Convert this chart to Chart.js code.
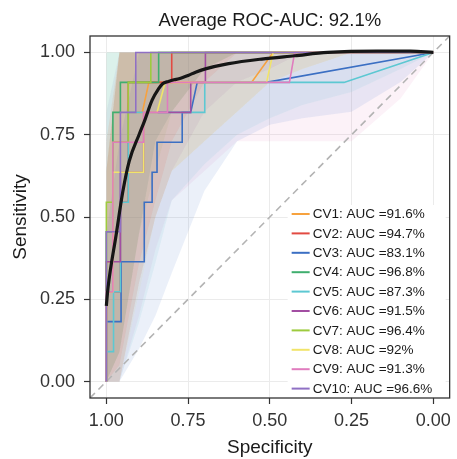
<!DOCTYPE html>
<html>
<head>
<meta charset="utf-8">
<title>ROC curves</title>
<script src="https://cdn.jsdelivr.net/npm/chart.js@4/dist/chart.umd.min.js"></script>
<style>
  body { margin: 0; background: #fff; }
  canvas { display: block; }
</style>
</head>
<body>
<canvas id="roc" width="457" height="459"></canvas>
<script>
// ---- data ----
const cvLabels = [
  "CV1: AUC =91.6%", "CV2: AUC =94.7%", "CV3: AUC =83.1%", "CV4: AUC =96.8%",
  "CV5: AUC =87.3%", "CV6: AUC =91.5%", "CV7: AUC =96.4%", "CV8: AUC =92%",
  "CV9: AUC =91.3%", "CV10: AUC =96.6%",
];
const cvColors = [
  "#F7A23E", "#E24A42", "#3B6FC3", "#3FAE6E", "#5CC8D2",
  "#A24EA2", "#9DCB3E", "#F1E46A", "#E07CBE", "#8F70C4",
];

// ROC points per fold (specificity, sensitivity)
const cvSpec = [
  [1, 1, 0.98, 0.98, 0.933, 0.933, 0.89, 0.87, 0.556, 0.49, 0],
  [1, 1, 0.957, 0.957, 0.933, 0.933, 0.8, 0.8, 0],
  [1, 1, 0.955, 0.955, 0.884, 0.884, 0.86, 0.86, 0.845, 0.845, 0.768, 0.768, 0.742, 0.722, 0.511, 0],
  [1, 1, 0.98, 0.98, 0.957, 0.957, 0.84, 0.84, 0],
  [1, 1, 0.978, 0.978, 0.957, 0.957, 0.933, 0.933, 0.699, 0.699, 0.273, 0],
  [1, 1, 0.957, 0.957, 0.886, 0.886, 0.742, 0.742, 0.697, 0.697, 0],
  [1, 1, 0.98, 0.98, 0.933, 0.933, 0.864, 0.864, 0],
  [1, 1, 0.98, 0.98, 0.886, 0.886, 0.845, 0.82, 0.51, 0.49, 0],
  [1, 1, 0.98, 0.98, 0.886, 0.886, 0.813, 0.813, 0.44, 0.424, 0],
  [1, 1, 0.957, 0.957, 0.91, 0.91, 0],
];
const cvSens = [
  [0, 0.364, 0.364, 0.727, 0.727, 0.818, 0.818, 0.909, 0.909, 1, 1],
  [0, 0.273, 0.273, 0.545, 0.545, 0.909, 0.909, 1, 1],
  [0, 0.182, 0.182, 0.364, 0.364, 0.545, 0.545, 0.636, 0.636, 0.727, 0.727, 0.818, 0.818, 0.909, 0.909, 1],
  [0, 0.455, 0.455, 0.818, 0.818, 0.909, 0.909, 1, 1],
  [0, 0.091, 0.091, 0.273, 0.273, 0.545, 0.545, 0.818, 0.818, 0.909, 0.909, 1],
  [0, 0.364, 0.364, 0.636, 0.636, 0.818, 0.818, 0.909, 0.909, 1, 1],
  [0, 0.545, 0.545, 0.727, 0.727, 0.909, 0.909, 1, 1],
  [0, 0.273, 0.273, 0.636, 0.636, 0.818, 0.818, 0.909, 0.909, 1, 1],
  [0, 0.273, 0.273, 0.727, 0.727, 0.818, 0.818, 0.909, 0.909, 1, 1],
  [0, 0.455, 0.455, 0.818, 0.818, 1, 1],
];

// confidence bands, shared specificity grid
const bandSpec = [1, 0.96, 0.9, 0.85, 0.8, 0.7, 0.6, 0.5, 0.4, 0.25, 0.1, 0];
const bandLow = [
  [0, 0, 0.3, 0.5, 0.64, 0.73, 0.82, 0.91, 0.95, 1, 1, 1],
  [0, 0.05, 0.36, 0.55, 0.73, 0.91, 1, 1, 1, 1, 1, 1],
  [0, 0, 0.1, 0.2, 0.33, 0.58, 0.73, 0.78, 0.8, 0.82, 0.91, 1],
  [0, 0.09, 0.45, 0.73, 0.82, 0.95, 1, 1, 1, 1, 1, 1],
  [0, 0, 0.18, 0.36, 0.55, 0.66, 0.75, 0.8, 0.84, 0.88, 0.95, 1],
  [0, 0, 0.3, 0.5, 0.64, 0.82, 0.91, 0.95, 1, 1, 1, 1],
  [0, 0.09, 0.45, 0.64, 0.82, 0.95, 1, 1, 1, 1, 1, 1],
  [0, 0, 0.27, 0.5, 0.64, 0.73, 0.82, 0.91, 0.95, 1, 1, 1],
  [0, 0, 0.2, 0.4, 0.55, 0.64, 0.73, 0.73, 0.73, 0.73, 0.86, 1],
  [0, 0.09, 0.45, 0.73, 0.82, 0.95, 1, 1, 1, 1, 1, 1],
];
const bandHigh = [
  [0.73, 1, 1, 1, 1, 1, 1, 1, 1, 1, 1, 1],
  [0.64, 1, 1, 1, 1, 1, 1, 1, 1, 1, 1, 1],
  [0.45, 0.73, 1, 1, 1, 1, 1, 1, 1, 1, 1, 1],
  [1, 1, 1, 1, 1, 1, 1, 1, 1, 1, 1, 1],
  [1, 1, 1, 1, 1, 1, 1, 1, 1, 1, 1, 1],
  [0.64, 1, 1, 1, 1, 1, 1, 1, 1, 1, 1, 1],
  [0.64, 1, 1, 1, 1, 1, 1, 1, 1, 1, 1, 1],
  [0.64, 1, 1, 1, 1, 1, 1, 1, 1, 1, 1, 1],
  [0.73, 1, 1, 1, 1, 1, 1, 1, 1, 1, 1, 1],
  [0.82, 1, 1, 1, 1, 1, 1, 1, 1, 1, 1, 1],
];

// averaged (smoothed) curve
const avgSpec = [1, 0.995, 0.97, 0.95, 0.93, 0.9, 0.884, 0.86, 0.84, 0.828, 0.81, 0.793, 0.778, 0.75, 0.727, 0.697, 0.626, 0.525, 0.424, 0.323, 0.172, 0.07, 0];
const avgSens = [0.23, 0.284, 0.446, 0.575, 0.67, 0.75, 0.79, 0.855, 0.89, 0.905, 0.912, 0.917, 0.92, 0.93, 0.94, 0.95, 0.966, 0.98, 0.99, 1.0, 1.004, 1.004, 1.0];

const specTicks = [1, 0.75, 0.5, 0.25, 0];
const sensTicks = [0, 0.25, 0.5, 0.75, 1];
const chartTitle = "Average ROC-AUC: 92.1%";

const FONT = '"Liberation Sans", Arial, Helvetica, sans-serif';

function alpha(hex, a) {
  const n = parseInt(hex.slice(1), 16);
  return `rgba(${(n >> 16) & 255}, ${(n >> 8) & 255}, ${n & 255}, ${a})`;
}
const toPoints = (xs, ys) => xs.map((x, i) => ({ x: x, y: ys[i] }));

// ---- datasets ----
const datasets = [];

bandLow.forEach((low, i) => {
  datasets.push({
    label: "band-hi-" + i,
    data: toPoints(bandSpec, bandHigh[i]),
    borderColor: "rgba(0,0,0,0)",
    borderWidth: 0,
    backgroundColor: alpha(cvColors[i], 0.1),
    fill: "+1",
    pointRadius: 0,
    order: 100,
  });
  datasets.push({
    label: "band-lo-" + i,
    data: toPoints(bandSpec, low),
    borderColor: "rgba(0,0,0,0)",
    borderWidth: 0,
    fill: false,
    pointRadius: 0,
    order: 100,
  });
});

datasets.push({
  label: "chance",
  data: [{ x: 1.05, y: -0.05 }, { x: -0.05, y: 1.05 }],
  borderColor: "#B3B3B3",
  borderWidth: 1.6,
  borderDash: [7, 5],
  fill: false,
  pointRadius: 0,
  order: 50,
});

cvSpec.forEach((spec, i) => {
  datasets.push({
    label: cvLabels[i],
    data: toPoints(spec, cvSens[i]),
    borderColor: cvColors[i],
    borderWidth: 1.6,
    fill: false,
    pointRadius: 0,
    order: 20 - i,
  });
});

datasets.push({
  label: "average",
  data: toPoints(avgSpec, avgSens),
  borderColor: "#161616",
  borderWidth: 3.2,
  cubicInterpolationMode: "monotone",
  fill: false,
  pointRadius: 0,
  order: 0,
});

// panel border, legend and title
const decorations = {
  id: "decorations",
  afterDatasetsDraw(chart) {
    const { ctx, chartArea } = chart;
    ctx.save();

    // legend box (bottom right, inside panel)
    const boxX = chartArea.right - 162;
    const boxY = 205;
    ctx.fillStyle = "#fff";
    ctx.fillRect(boxX, boxY, chartArea.right - boxX - 4, chartArea.bottom - boxY - 1);
    ctx.font = "13.5px " + FONT;
    ctx.textBaseline = "middle";
    ctx.textAlign = "left";
    cvLabels.forEach((lab, i) => {
      const y = 214 + i * 19.4;
      ctx.strokeStyle = cvColors[i];
      ctx.lineWidth = 2;
      ctx.beginPath();
      ctx.moveTo(boxX + 4, y);
      ctx.lineTo(boxX + 22, y);
      ctx.stroke();
      ctx.fillStyle = "#1a1a1a";
      ctx.fillText(lab, boxX + 25, y + 0.5);
    });

    // panel frame
    ctx.strokeStyle = "#333";
    ctx.lineWidth = 1.3;
    ctx.strokeRect(chartArea.left, chartArea.top, chartArea.right - chartArea.left, chartArea.bottom - chartArea.top);
    ctx.restore();
  },
  afterDraw(chart) {
    const { ctx, chartArea } = chart;
    ctx.save();
    ctx.font = "18.5px " + FONT;
    ctx.fillStyle = "#1a1a1a";
    ctx.textAlign = "center";
    ctx.textBaseline = "alphabetic";
    ctx.fillText(chartTitle, (chartArea.left + chartArea.right) / 2, 26);
    ctx.restore();
  },
};

new Chart(document.getElementById("roc"), {
  type: "line",
  data: { datasets: datasets },
  options: {
    responsive: false,
    animation: false,
    devicePixelRatio: 1,
    layout: { padding: { top: 36, right: 4, left: 0, bottom: 0 } },
    plugins: {
      legend: { display: false },
      tooltip: { enabled: false },
      title: { display: false },
    },
    scales: {
      x: {
        type: "linear",
        reverse: true,
        min: -0.05,
        max: 1.05,
        afterBuildTicks: (s) => { s.ticks = specTicks.map((v) => ({ value: v })); },
        afterFit: (s) => { s.height = 61; },
        ticks: {
          callback: (v) => Number(v).toFixed(2),
          font: { family: FONT, size: 18 },
          color: "#333",
          padding: 6,
          maxRotation: 0,
        },
        grid: { color: "#EBEBEB", lineWidth: 1, tickLength: 6, tickColor: "#333", tickWidth: 1.2 },
        border: { display: false },
        title: {
          display: true,
          text: "Specificity",
          font: { family: FONT, size: 19, lineHeight: 1.2 },
          color: "#1a1a1a",
          padding: { top: 0, bottom: 0 },
        },
      },
      y: {
        type: "linear",
        min: -0.05,
        max: 1.05,
        afterBuildTicks: (s) => { s.ticks = sensTicks.map((v) => ({ value: v })); },
        afterFit: (s) => { s.width = 90; },
        ticks: {
          callback: (v) => Number(v).toFixed(2),
          font: { family: FONT, size: 18 },
          color: "#333",
          padding: 9,
        },
        grid: { color: "#EBEBEB", lineWidth: 1, tickLength: 6, tickColor: "#333", tickWidth: 1.2 },
        border: { display: false },
        title: {
          display: true,
          text: "Sensitivity",
          font: { family: FONT, size: 19, lineHeight: 1.2 },
          color: "#1a1a1a",
          padding: { top: 9, bottom: 0 },
        },
      },
    },
  },
  plugins: [decorations],
});
</script>
</body>
</html>
